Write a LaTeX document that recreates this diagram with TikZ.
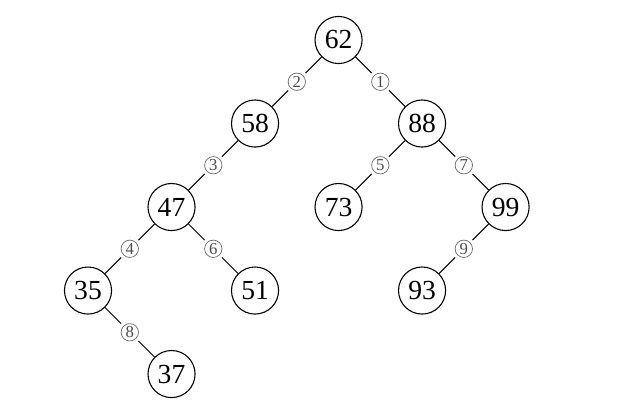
\documentclass[tikz,border=0pt]{standalone}
\usepackage{fontspec}
\setmainfont{Liberation Serif}
\usepackage{tikz}
\usetikzlibrary{positioning}

\begin{document}
\begin{tikzpicture}[x=1.49cm, y=1.49cm,
  key/.style={circle, draw, line width=0.55pt, minimum size=0.84cm, inner sep=0pt,
    font=\fontsize{14}{16}\selectfont},
  ord/.style={circle, draw=black!60, line width=0.35pt, fill=white, minimum size=0.31cm,
    inner sep=0pt, text=black!70, font=\fontsize{8.5}{9}\selectfont,
    preaction={draw=white, line width=3.5pt}},
  link/.style={line width=0.5pt}]
  \useasboundingbox (-1.054,0.479) rectangle (6.43,-4.395);
  \node[key] (n62) at (3,0) {62};
  \node[key] (n58) at (2,-1) {58};
  \node[key] (n88) at (4,-1) {88};
  \node[key] (n47) at (1,-2) {47};
  \node[key] (n73) at (3,-2) {73};
  \node[key] (n99) at (5,-2) {99};
  \node[key] (n35) at (0,-3) {35};
  \node[key] (n51) at (2,-3) {51};
  \node[key] (n93) at (4,-3) {93};
  \node[key] (n37) at (1,-4) {37};
  \draw[link] (n62) -- node[ord] {1} (n88);
  \draw[link] (n62) -- node[ord] {2} (n58);
  \draw[link] (n58) -- node[ord] {3} (n47);
  \draw[link] (n47) -- node[ord] {4} (n35);
  \draw[link] (n88) -- node[ord] {5} (n73);
  \draw[link] (n47) -- node[ord] {6} (n51);
  \draw[link] (n88) -- node[ord] {7} (n99);
  \draw[link] (n35) -- node[ord] {8} (n37);
  \draw[link] (n99) -- node[ord] {9} (n93);
\end{tikzpicture}
\end{document}
